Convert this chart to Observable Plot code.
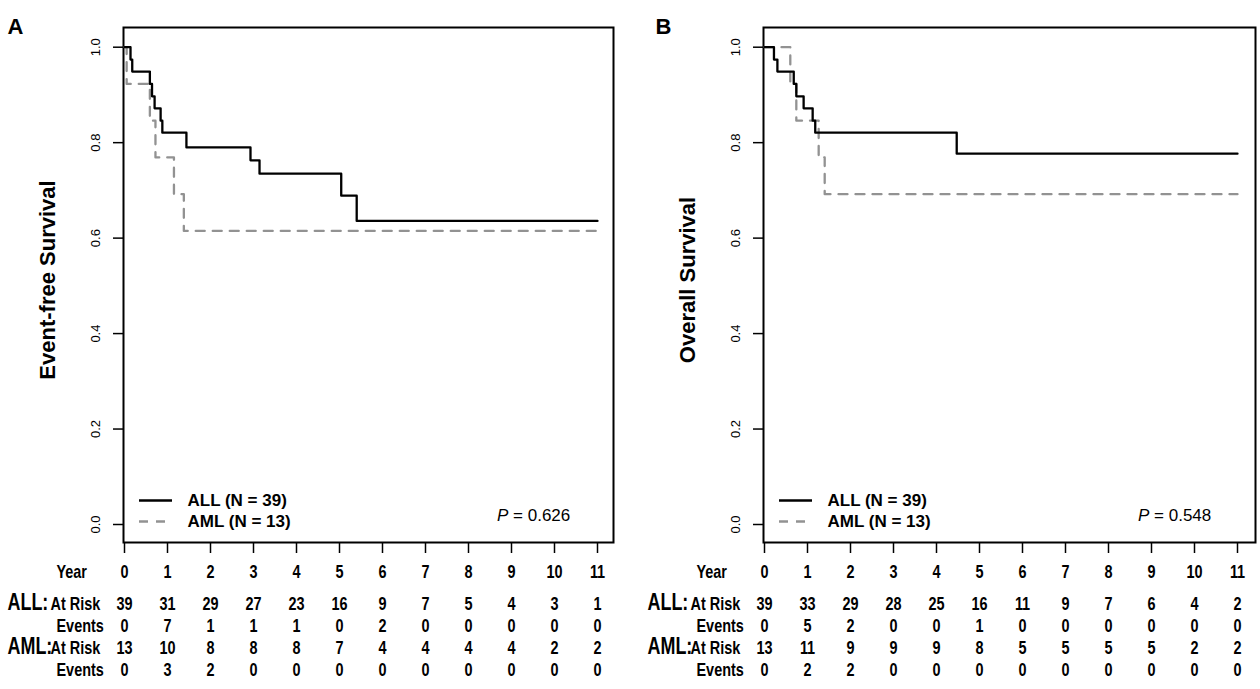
<!DOCTYPE html>
<html><head><meta charset="utf-8">
<script src="https://cdn.jsdelivr.net/npm/d3@7"></script>
<script src="https://cdn.jsdelivr.net/npm/@observablehq/plot@0.6"></script>
<style>
body{margin:0;background:#fff;}
#wrap{display:flex;width:1260px;height:689px;overflow:hidden;}
</style></head><body><div id="wrap"></div>
<script>
// ---- data ----
const years = [0,1,2,3,4,5,6,7,8,9,10,11];
const yTicks = [0,0.2,0.4,0.6,0.8,1.0];

// Panel A: Event-free survival (step curves)
const efsAllTime = [0, 0.14, 0.18, 0.59, 0.64, 0.70, 0.84, 0.88, 1.44, 2.93, 3.14, 5.04, 5.40, 11];
const efsAllSurv = [1, 0.974, 0.949, 0.923, 0.897, 0.872, 0.846, 0.821, 0.790, 0.763, 0.735, 0.689, 0.636, 0.636];
const efsAmlTime = [0, 0.05, 0.59, 0.72, 1.15, 1.38, 11];
const efsAmlSurv = [1, 0.923, 0.846, 0.769, 0.692, 0.615, 0.615];
const efsAllRisk = [39,31,29,27,23,16,9,7,5,4,3,1];
const efsAllEvents = [0,7,1,1,1,0,2,0,0,0,0,0];
const efsAmlRisk = [13,10,8,8,8,7,4,4,4,4,2,2];
const efsAmlEvents = [0,3,2,0,0,0,0,0,0,0,0,0];

// Panel B: Overall survival
const osAllTime = [0, 0.22, 0.30, 0.68, 0.74, 0.91, 1.12, 1.18, 4.47, 11];
const osAllSurv = [1, 0.974, 0.949, 0.923, 0.897, 0.872, 0.846, 0.821, 0.777, 0.777];
const osAmlTime = [0, 0.60, 0.74, 1.26, 1.40, 11];
const osAmlSurv = [1, 0.923, 0.846, 0.769, 0.692, 0.692];
const osAllRisk = [39,33,29,28,25,16,11,9,7,6,4,2];
const osAllEvents = [0,5,2,0,0,1,0,0,0,0,0,0];
const osAmlRisk = [13,11,9,9,9,8,5,5,5,5,2,2];
const osAmlEvents = [0,2,2,0,0,0,0,0,0,0,0,0];

const legendLabels = ["ALL (N = 39)", "AML (N = 13)"];

// ---- styles ----
const SANS = "'Liberation Sans', Arial, Helvetica, sans-serif";
const GRAY = "#929292";
const NARROW_SCALE = 0.78;

function panel(o) {
  const allData = o.allT.map((t, i) => ({t, s: o.allS[i]}));
  const amlData = o.amlT.map((t, i) => ({t, s: o.amlS[i]}));
  const rowText = (vals, dy) => Plot.text(years, {
    x: d => d, text: (d, i) => vals[i], frameAnchor: "bottom", dy, ariaLabel: () => "table",
    fontFamily: SANS, fontWeight: "bold", fontSize: 18.5, fill: "#000"
  });
  const rowLabel = (txt, dx, dy, size) => Plot.text([txt], {
    frameAnchor: "bottom-left", dx, dy, textAnchor: "start", ariaLabel: () => "table",
    fontFamily: SANS, fontWeight: "bold", fontSize: size, fill: "#000"
  });
  const legendText = (txt, dy) => Plot.text([txt], {
    frameAnchor: "bottom-left", dx: 64, dy, textAnchor: "start",
    fontSize: 17, fontWeight: "bold", fontFamily: SANS, fill: "#000"
  });
  const svg = Plot.plot({
    width: o.width, height: 689,
    marginLeft: 123, marginRight: o.marginRight, marginTop: 27, marginBottom: 147,
    style: {background: "#fff", fontFamily: SANS, overflow: "visible"},
    x: {domain: [0, 11], range: [124, 597], axis: null},
    y: {domain: [0, 1], range: [524, 46.7], axis: null},
    marks: [
      Plot.frame({stroke: "#000", strokeWidth: 2}),
      Plot.axisX(years, {tickSize: 11, tickFormat: () => "", label: null, strokeWidth: 1.5, stroke: "#000"}),
      Plot.axisY(yTicks, {tickSize: 10, tickFormat: () => "", label: null, strokeWidth: 1.5, stroke: "#000"}),
      Plot.text(yTicks, {y: d => d, text: d => d.toFixed(1), frameAnchor: "left", dx: -28, rotate: -90,
        textAnchor: "middle", fontSize: 13, fontFamily: SANS, fill: "#000"}),
      Plot.text([o.yLabel], {frameAnchor: "left", dx: -76, dy: -5, rotate: -90, textAnchor: "middle",
        fontSize: 22, fontWeight: "bold", fontFamily: SANS, fill: "#000"}),
      Plot.text([o.letter], {frameAnchor: "top-left", dx: o.letterX - 123, dy: -9.5, textAnchor: "start",
        fontSize: 22, fontWeight: "bold", fontFamily: SANS, fill: "#000"}),
      Plot.line(amlData, {x: "t", y: "s", curve: "step-after", stroke: GRAY, strokeWidth: 2.3,
        strokeDasharray: "9,8"}),
      Plot.line(allData, {x: "t", y: "s", curve: "step-after", stroke: "#000", strokeWidth: 2.3}),
      legendText(legendLabels[0], -37),
      legendText(legendLabels[1], -16),
      // table
      rowLabel("Year", -67, 35, 18.5),
      rowText(years, 35),
      rowLabel("ALL:", -116, 67, 23),
      rowLabel("At Risk", -73, 67, 18.5),
      rowText(o.rows[0], 67),
      rowLabel("Events", -67, 89, 18.5),
      rowText(o.rows[1], 89),
      rowLabel("AML:", -116, 111, 23),
      rowLabel("At Risk", -73, 111, 18.5),
      rowText(o.rows[2], 111),
      rowLabel("Events", -67, 133, 18.5),
      rowText(o.rows[3], 133)
    ]
  });
  const s = d3.select(svg);
  // condense table text (Arial Narrow look)
  s.selectAll('text[aria-label="table"]').each(function() {
    const tr = this.getAttribute("transform") || "";
    const x = +this.getAttribute("x") || 0, y = +this.getAttribute("y") || 0;
    this.setAttribute("x", 0); this.setAttribute("y", 0);
    this.setAttribute("transform", `${tr} translate(${x},${y}) scale(${NARROW_SCALE},1)`);
  });
  // legend line samples
  const lg = s.append("g");
  lg.append("line").attr("x1", 139).attr("x2", 172).attr("y1", 500.5).attr("y2", 500.5)
    .attr("stroke", "#000").attr("stroke-width", 2.3);
  lg.append("line").attr("x1", 139).attr("x2", 172).attr("y1", 521.5).attr("y2", 521.5)
    .attr("stroke", GRAY).attr("stroke-width", 2.3).attr("stroke-dasharray", "9,8");
  const pt = s.append("text").attr("x", o.pX).attr("y", 521).attr("text-anchor", "start")
    .attr("font-family", SANS).attr("font-size", 17).attr("fill", "#000");
  pt.append("tspan").attr("font-style", "italic").text("P");
  pt.append("tspan").text(" = " + o.p);
  return svg;
}

const wrap = document.getElementById("wrap");
wrap.appendChild(panel({
  letter: "A", letterX: 7, yLabel: "Event-free Survival", width: 640, marginRight: 27,
  allT: efsAllTime, allS: efsAllSurv, amlT: efsAmlTime, amlS: efsAmlSurv,
  rows: [efsAllRisk, efsAllEvents, efsAmlRisk, efsAmlEvents], p: "0.626", pX: 497
}));
wrap.appendChild(panel({
  letter: "B", letterX: 15, yLabel: "Overall Survival", width: 620, marginRight: 5,
  allT: osAllTime, allS: osAllSurv, amlT: osAmlTime, amlS: osAmlSurv,
  rows: [osAllRisk, osAllEvents, osAmlRisk, osAmlEvents], p: "0.548", pX: 498
}));
</script></body></html>
